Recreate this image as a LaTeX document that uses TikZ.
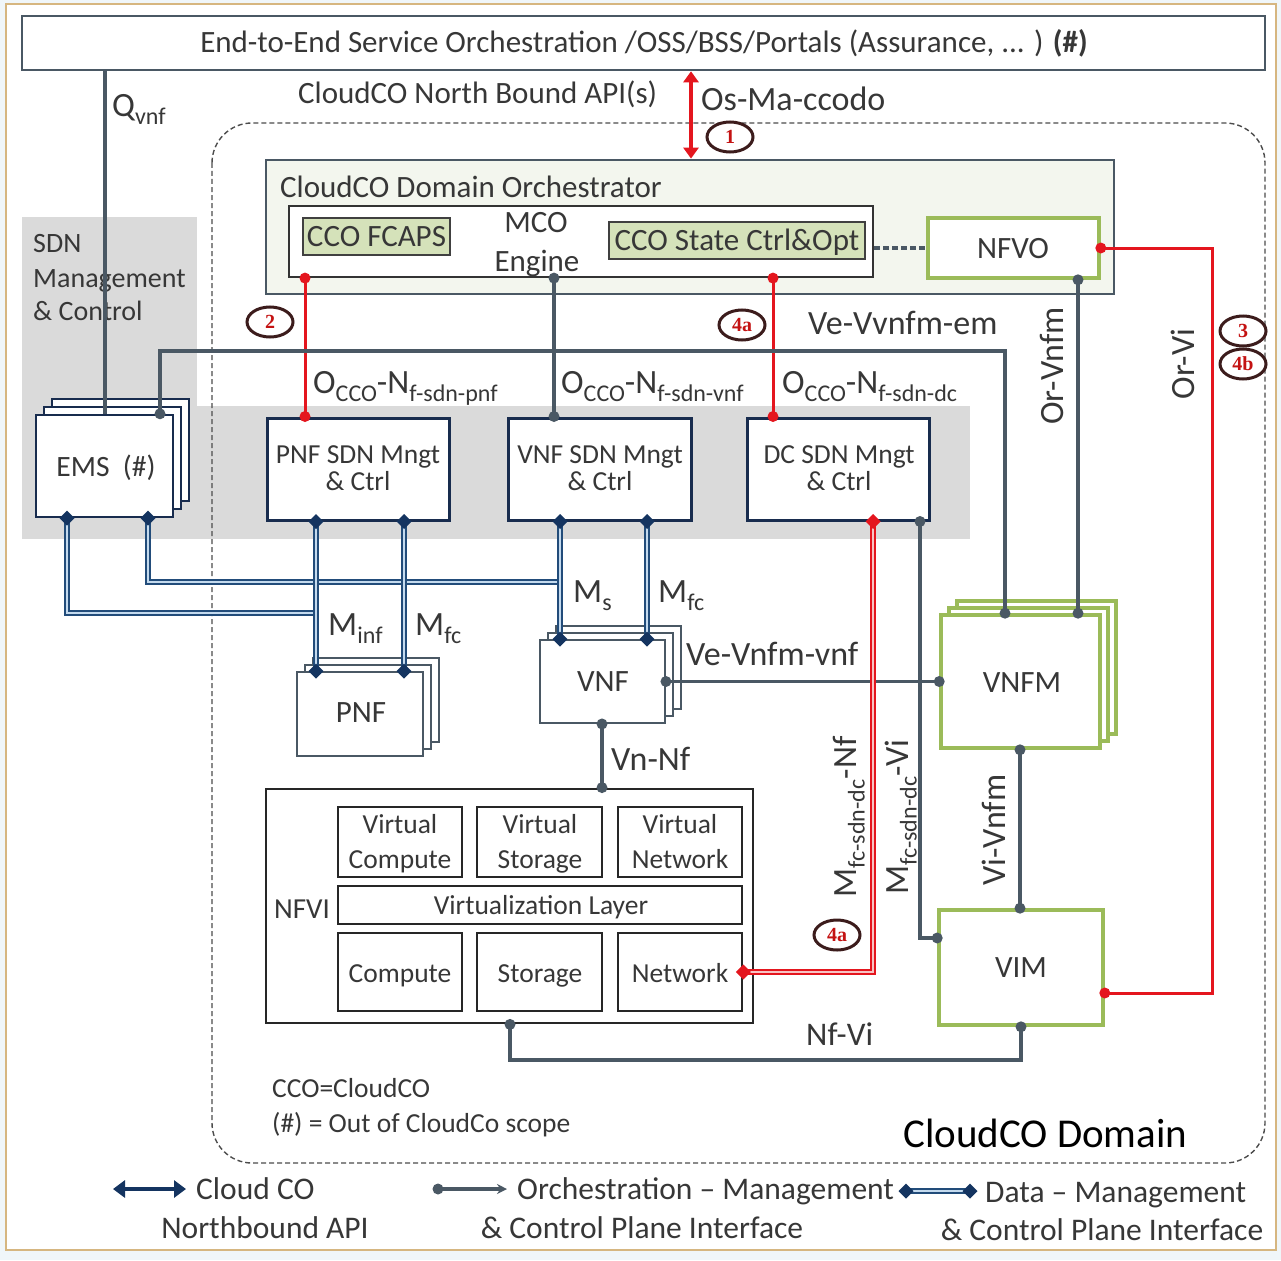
\documentclass[tikz,border=0pt]{standalone}
\usepackage{fontspec}
\setmainfont{Carlito}
\newfontfamily\badgefont{Liberation Serif}
\usetikzlibrary{arrows.meta,shapes.geometric}

\definecolor{txt}{RGB}{55,55,55}
\definecolor{slate}{RGB}{74,88,100}
\definecolor{navy}{RGB}{20,52,96}
\definecolor{navyline}{RGB}{34,76,122}
\definecolor{paleblue}{RGB}{196,218,238}
\definecolor{boxnavy}{RGB}{24,44,78}
\definecolor{redc}{RGB}{228,22,30}
\definecolor{pinkc}{RGB}{248,196,196}
\definecolor{grn}{RGB}{155,187,89}
\definecolor{orchfill}{RGB}{243,246,238}
\definecolor{ccofill}{RGB}{213,226,186}
\definecolor{band}{RGB}{218,218,218}
\definecolor{badgeedge}{RGB}{60,28,28}
\definecolor{badgetxt}{RGB}{196,18,18}
\definecolor{framec}{RGB}{214,182,128}
\definecolor{bgblue}{RGB}{240,246,249}

\newcommand{\szmain}{\fontsize{31}{37}\selectfont}
\newcommand{\szbox}{\fontsize{27.5}{31}\selectfont}
\newcommand{\szif}{\fontsize{34}{40}\selectfont}
\newcommand{\szbig}{\fontsize{41}{48}\selectfont}
\newcommand{\lowsub}[1]{\raisebox{-8pt}{\fontsize{24}{24}\selectfont #1}}
\newcommand{\dotat}[2][slate]{\fill[#1] #2 circle (5.5pt);}
\newcommand{\dmdat}[2][navy]{\fill[#1] #2 ++(-7.5,0) -- ++(7.5,-7.5) -- ++(7.5,7.5) -- ++(-7.5,7.5) -- cycle;}
% stacked boxes: style, name, cx, cy, w, h, dx, dy
\newcommand{\stacked}[8]{%
  \foreach \k in {2,1}{\draw[#1] ({#3-#5/2+#7*\k},{#4-#6/2-#8*\k}) rectangle ++(#5,#6);}
  \node[#1, minimum width=#5, minimum height=#6] (#2) at (#3,#4) {};}

\tikzset{
  every node/.style={text=txt, inner sep=0},
  plainbox/.style={draw=slate, line width=2.6, fill=white},
  orchbox/.style={draw=slate, line width=2.8, fill=orchfill},
  mcobox/.style={draw=black!80, line width=2.2, fill=white},
  ccobox/.style={draw=black!75, line width=1.8, fill=ccofill},
  sdnbox/.style={draw=boxnavy, line width=3, fill=white},
  emsbox/.style={draw=boxnavy, line width=2.4, fill=white},
  nfbox/.style={draw=slate, line width=1.9, fill=white},
  greenbox/.style={draw=grn, line width=3.6, fill=white},
  nfvibox/.style={draw=black!85, line width=2.8, fill=white},
  orchline/.style={draw=slate, line width=3.2},
  redline/.style={draw=redc, line width=3},
  dataline/.style={draw=navyline, line width=2, double=paleblue, double distance=2.6},
  reddata/.style={draw=redc, line width=2, double=pinkc, double distance=2.6},
  badge/.style={ellipse, draw=badgeedge, line width=3, fill=white, minimum width=46, minimum height=30,
    font=\badgefont\fontsize{20}{20}\selectfont\bfseries, text=badgetxt},
  lbl/.style={font=\szif},
  mtxt/.style={font=\szmain},
  btxt/.style={font=\szbox},
}

\begin{document}
\begin{tikzpicture}[x=1pt,y=-1pt]
\useasboundingbox (0,0) rectangle (1281,1260);
\fill[bgblue] (0,0) rectangle (1281,1260);
\draw[framec, line width=2, fill=white] (6,4) rectangle (1276,1250);

% SDN management & control region
\fill[band] (22,217) rectangle (197,539);
\fill[band] (22,406) rectangle (970,539);
\node[anchor=base west, font=\fontsize{28}{34}\selectfont] (sdn1) at (33,252) {SDN};
\node[anchor=base west, font=\fontsize{28}{34}\selectfont] (sdn2) at (33,287) {Management};
\node[anchor=base west, font=\fontsize{28}{34}\selectfont] (sdn3) at (33,320) {\& Control};

% CloudCO domain boundary
\draw[black!70, line width=1.4, dash pattern=on 5pt off 3pt, rounded corners=40] (212,123) rectangle (1265,1163);

% top level orchestration
\node[plainbox, minimum width=1243, minimum height=54] (top) at (643.5,43) {};
\node[mtxt, anchor=base] (toptxt) at (644,53) {End-to-End Service Orchestration /OSS/BSS/Portals (Assurance, ... ) {\bfseries(\#)}};
\node[mtxt, anchor=base west] (nbapi) at (298,104) {CloudCO North Bound API(s)};
\node[lbl, anchor=base west] (osma) at (701,111) {Os-Ma-ccodo};
\node[lbl, anchor=base west] (qvnf) at (112,117) {Q\lowsub{vnf}};

% domain orchestrator
\node[orchbox, minimum width=848, minimum height=134] (orch) at (690,227) {};
\node[mtxt, anchor=base west] (orchtxt) at (280,197) {CloudCO Domain Orchestrator};
\node[mcobox, minimum width=584, minimum height=71] (mco) at (581,241.5) {};
\node[mtxt, anchor=base] (mco1) at (536,232) {MCO};
\node[mtxt, anchor=base] (mco2) at (537,271) {Engine};
\node[ccobox, minimum width=147, minimum height=37] (fcaps) at (376.5,236.5) {};
\node[mtxt, anchor=base] (fcapstxt) at (376.5,246) {CCO FCAPS};
\node[ccobox, minimum width=256, minimum height=37] (stctl) at (737,240.5) {};
\node[mtxt, anchor=base] (stctltxt) at (737,250) {CCO State Ctrl\&Opt};
\node[greenbox, minimum width=171, minimum height=60] (nfvo) at (1013.5,248) {};
\node[mtxt, anchor=base] (nfvotxt) at (1013,258) {NFVO};
\draw[slate, line width=3.2, dash pattern=on 6pt off 3pt] (mco.east |- nfvo.west) -- (nfvo.west);

% SDN management boxes
\stacked{emsbox}{ems}{104.5}{466}{137}{102}{8}{8}
\node[font=\fontsize{29.5}{34}\selectfont, anchor=base] (emstxt) at (106,476) {EMS\hspace{0.45em}(\#)};
\node[sdnbox, minimum width=182, minimum height=102] (pnfsdn) at (358,469) {};
\node[btxt, anchor=base] (pnfsdn1) at (358,463) {PNF SDN Mngt};
\node[btxt, anchor=base] (pnfsdn2) at (358,490) {\& Ctrl};
\node[sdnbox, minimum width=183, minimum height=102] (vnfsdn) at (599.5,469) {};
\node[btxt, anchor=base] (vnfsdn1) at (600,463) {VNF SDN Mngt};
\node[btxt, anchor=base] (vnfsdn2) at (600,490) {\& Ctrl};
\node[sdnbox, minimum width=182, minimum height=102] (dcsdn) at (838,469) {};
\node[btxt, anchor=base] (dcsdn1) at (839,463) {DC SDN Mngt};
\node[btxt, anchor=base] (dcsdn2) at (839,490) {\& Ctrl};

% network functions and managers
\stacked{nfbox}{pnf}{360}{714}{126}{84}{8}{7}
\node[mtxt, anchor=base] (pnftxt) at (361,722) {PNF};
\stacked{nfbox}{vnf}{602.5}{681.5}{125}{83}{8}{7}
\node[mtxt, anchor=base] (vnftxt) at (603,691) {VNF};
\stacked{greenbox}{vnfm}{1020.5}{681.5}{159}{133}{8}{7}
\node[mtxt, anchor=base] (vnfmtxt) at (1022,692) {VNFM};
\node[greenbox, minimum width=164, minimum height=115] (vim) at (1021,967.5) {};
\node[mtxt, anchor=base] (vimtxt) at (1021,977) {VIM};

% NFVI
\node[nfvibox, minimum width=487, minimum height=234] (nfvi) at (509.5,906) {};
\node[font=\fontsize{29}{34}\selectfont, anchor=base west] (nfvitxt) at (274,918) {NFVI};
\node[nfvibox, minimum width=124, minimum height=70] (vcomp) at (400,842) {};
\node[nfvibox, minimum width=125, minimum height=70] (vstor) at (539.5,842) {};
\node[nfvibox, minimum width=124, minimum height=70] (vnet) at (680,842) {};
\node[btxt, anchor=base] (vcomp1) at (400,833) {Virtual};
\node[btxt, anchor=base] (vcomp2) at (400,868) {Compute};
\node[btxt, anchor=base] (vstor1) at (540,833) {Virtual};
\node[btxt, anchor=base] (vstor2) at (540,868) {Storage};
\node[btxt, anchor=base] (vnet1) at (680,833) {Virtual};
\node[btxt, anchor=base] (vnet2) at (680,868) {Network};
\node[nfvibox, minimum width=404, minimum height=38] (vlayer) at (540,905) {};
\node[btxt, anchor=base] (vlayertxt) at (541,914) {Virtualization Layer};
\node[nfvibox, minimum width=124, minimum height=78] (comp) at (400,972) {};
\node[nfvibox, minimum width=125, minimum height=78] (stor) at (539.5,972) {};
\node[nfvibox, minimum width=124, minimum height=78] (netb) at (680,972) {};
\node[btxt, anchor=base] (comptxt) at (400,982) {Compute};
\node[btxt, anchor=base] (stortxt) at (540,982) {Storage};
\node[btxt, anchor=base] (netbtxt) at (680,982) {Network};

% connector positions
\coordinate (xq) at (105,0);
\coordinate (xarr) at (691,0);
\coordinate (xp2) at (305,0);
\coordinate (xmc) at (554,0);
\coordinate (xp4) at (773,0);
\coordinate (xve) at (160,0);
\coordinate (vebend) at (1005,351);
\coordinate (xorv) at (1078,0);
\coordinate (orvibend) at (1212,0);
\coordinate (yvimr) at (0,993);
\coordinate (xvi) at (1020,0);
\coordinate (xdcg) at (920,0);
\coordinate (yviml) at (0,938);
\coordinate (xvn) at (602,0);
\coordinate (nfvibend) at (510,1060);
\coordinate (xnfvim) at (1021,0);
\coordinate (xe1) at (67,0);
\coordinate (xe2) at (148,0);
\coordinate (infjoin) at (316,613);
\coordinate (msjoin) at (560,582);
\coordinate (xpa) at (316,0);
\coordinate (xpb) at (404,0);
\coordinate (xva) at (560,0);
\coordinate (xvb) at (647,0);
\coordinate (xdcr) at (873,0);

% orchestration / management control plane
\draw[orchline] (top.south -| xq) -- (ems.north -| xq);
\draw[redc, line width=3.8, {Triangle[length=11pt,width=15pt]}-{Triangle[length=11pt,width=15pt]}] (top.south -| xarr) -- (orch.north -| xarr);
\draw[redline] (mco.south -| xp2) -- (pnfsdn.north -| xp2);
\draw[orchline] (mco.south -| xmc) -- (vnfsdn.north -| xmc);
\draw[redline] (mco.south -| xp4) -- (dcsdn.north -| xp4);
\draw[orchline] (ems.north -| xve) |- (vebend) -- (vnfm.north -| vebend);
\draw[orchline] (nfvo.south -| xorv) -- (vnfm.north -| xorv);
\draw[redline] (nfvo.east) -| (orvibend |- yvimr) -- (vim.east |- yvimr);
\draw[orchline] (vnf.east) -- (vnfm.west);
\draw[orchline] (vnfm.south -| xvi) -- (vim.north -| xvi);
\draw[orchline] (dcsdn.south -| xdcg) |- (vim.west |- yviml);
\draw[orchline] (vnf.south -| xvn) -- (nfvi.north -| xvn);
\draw[orchline] (nfvi.south -| nfvibend) |- (nfvibend -| xnfvim) -- (vim.south -| xnfvim);

% data management / control plane
\draw[dataline] (ems.south -| xe1) |- (infjoin);
\draw[dataline] (ems.south -| xe2) |- (msjoin);
\draw[dataline] (pnfsdn.south -| xpa) -- (pnf.north -| xpa);
\draw[dataline] (pnfsdn.south -| xpb) -- (pnf.north -| xpb);
\draw[dataline] (vnfsdn.south -| xva) -- (vnf.north -| xva);
\draw[dataline] (vnfsdn.south -| xvb) -- (vnf.north -| xvb);
\draw[reddata] (dcsdn.south -| xdcr) |- (netb.east);

% end markers
\dotat[redc]{(mco.south -| xp2)} \dotat[redc]{(pnfsdn.north -| xp2)}
\dotat[redc]{(mco.south -| xp4)} \dotat[redc]{(dcsdn.north -| xp4)}
\dotat[redc]{(nfvo.east)} \dotat[redc]{(vim.east |- yvimr)}
\dotat{(mco.south -| xmc)} \dotat{(vnfsdn.north -| xmc)}
\dotat{(ems.north -| xve)} \dotat{(vnfm.north -| vebend)}
\dotat{(nfvo.south -| xorv)} \dotat{(vnfm.north -| xorv)}
\dotat{(vnf.east)} \dotat{(vnfm.west)}
\dotat{(vnfm.south -| xvi)} \dotat{(vim.north -| xvi)}
\dotat{(dcsdn.south -| xdcg)} \dotat{(vim.west |- yviml)}
\dotat{(vnf.south -| xvn)} \dotat{(nfvi.north -| xvn)}
\dotat{(nfvi.south -| nfvibend)} \dotat{(vim.south -| xnfvim)}
\dmdat{(ems.south -| xe1)} \dmdat{(ems.south -| xe2)}
\dmdat{(pnfsdn.south -| xpa)} \dmdat{(pnfsdn.south -| xpb)}
\dmdat{(pnf.north -| xpa)} \dmdat{(pnf.north -| xpb)}
\dmdat{(vnfsdn.south -| xva)} \dmdat{(vnfsdn.south -| xvb)}
\dmdat{(vnf.north -| xva)} \dmdat{(vnf.north -| xvb)}
\dmdat[redc]{(dcsdn.south -| xdcr)} \dmdat[redc]{(netb.east)}

% interface labels
\node[lbl, anchor=base west] (occo1) at (313,393) {O\lowsub{CCO}-N\lowsub{f-sdn-pnf}};
\node[lbl, anchor=base west] (occo2) at (561,393) {O\lowsub{CCO}-N\lowsub{f-sdn-vnf}};
\node[lbl, anchor=base west] (occo3) at (782,393) {O\lowsub{CCO}-N\lowsub{f-sdn-dc}};
\node[lbl, anchor=base west] (vevvnfm) at (808,334) {Ve-Vvnfm-em};
\node[lbl, rotate=90] (orvnfm) at (1052,366) {Or-Vnfm};
\node[lbl, rotate=90] (orvi) at (1183,364) {Or-Vi};
\node[lbl, anchor=base west] (ms) at (573,602) {M\lowsub{s}};
\node[lbl, anchor=base west] (mfc1) at (658,602) {M\lowsub{fc}};
\node[lbl, anchor=base west] (minf) at (328,635) {M\lowsub{inf}};
\node[lbl, anchor=base west] (mfc2) at (415,635) {M\lowsub{fc}};
\node[lbl, anchor=base west] (vevnf) at (686,665) {Ve-Vnfm-vnf};
\node[lbl, anchor=base west] (vnnf) at (611,770) {Vn-Nf};
\node[lbl, rotate=90] (mfcnf) at (849,817) {M\lowsub{fc-sdn-dc}-Nf};
\node[lbl, rotate=90] (mfcvi) at (901,817) {M\lowsub{fc-sdn-dc}-Vi};
\node[lbl, rotate=90] (vivnfm) at (994,830) {Vi-Vnfm};
\node[font=\fontsize{33}{38}\selectfont, anchor=base west] (nfvilbl) at (806,1045) {Nf-Vi};

% step badges
\node[badge] (b1) at (730,137) {1};
\node[badge] (b2) at (270,322) {2};
\node[badge] (b4a) at (742,325) {4a};
\node[badge] (b3) at (1243,331) {3};
\node[badge] (b4b) at (1243,364) {4b};
\node[badge] (b4c) at (837,935) {4a};

% notes
\node[btxt, anchor=base west] (note1) at (272,1097) {CCO=CloudCO};
\node[btxt, anchor=base west] (note2) at (272,1132) {(\#) = Out of CloudCo scope};
\node[font=\szbig, text=black, anchor=base west] (domain) at (903,1147) {CloudCO Domain};

% legend
\coordinate (lgA1) at (113,1189);
\coordinate (lgA2) at (186,1189);
\draw[navy, line width=4.5, {Triangle[length=12pt,width=17pt]}-{Triangle[length=12pt,width=17pt]}] (lgA1) -- (lgA2);
\node[font=\fontsize{31.5}{37}\selectfont, anchor=base west] (lgAt1) at (196,1199) {Cloud CO};
\node[font=\fontsize{31.5}{37}\selectfont, anchor=base] (lgAt2) at (265,1238) {Northbound API};
\coordinate (lgB1) at (438,1189);
\coordinate (lgB2) at (507,1189);
\draw[orchline, -{Stealth[length=10pt,width=10pt]}] (lgB1) -- (lgB2);
\dotat{(lgB1)}
\node[font=\fontsize{31.5}{37}\selectfont, anchor=base west] (lgBt1) at (517,1199) {Orchestration -- Management};
\node[font=\fontsize{31.5}{37}\selectfont, anchor=base] (lgBt2) at (642,1238) {\& Control Plane Interface};
\coordinate (lgC1) at (906,1191);
\coordinate (lgC2) at (970,1191);
\draw[dataline] (lgC1) -- (lgC2);
\dmdat{(lgC1)} \dmdat{(lgC2)}
\node[font=\fontsize{31.5}{37}\selectfont, anchor=base west] (lgCt1) at (985,1202) {Data -- Management};
\node[font=\fontsize{31.5}{37}\selectfont, anchor=base] (lgCt2) at (1102,1240) {\& Control Plane Interface};
\end{tikzpicture}
\end{document}
